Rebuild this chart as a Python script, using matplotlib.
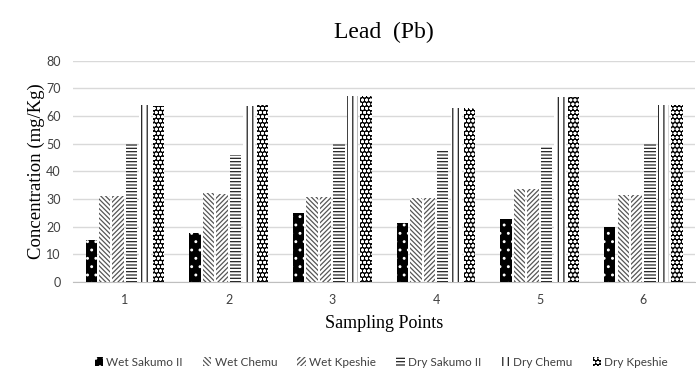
import numpy as np
import matplotlib
matplotlib.use("Agg")
import matplotlib.pyplot as plt

# data
points = [1, 2, 3, 4, 5, 6]
wet_sakumo = [15.1, 17.6, 24.8, 21.2, 22.8, 19.8]
wet_chemu = [31.2, 32.0, 30.8, 30.5, 33.6, 31.5]
wet_kpeshie = [31.2, 31.8, 30.8, 30.5, 33.6, 31.5]
dry_sakumo = [49.9, 46.0, 49.8, 47.5, 48.7, 49.8]
dry_chemu = [64.0, 63.7, 67.4, 62.8, 66.8, 64.0]
dry_kpeshie = [63.6, 64.0, 67.4, 62.8, 66.8, 64.0]
names = ["Wet Sakumo II", "Wet Chemu", "Wet Kpeshie", "Dry Sakumo II", "Dry Chemu", "Dry Kpeshie"]

plt.rcParams['hatch.linewidth'] = 0.9

fig = plt.figure(figsize=(6.96, 3.76), dpi=100)
ax = fig.add_axes([0.105, 0.25, 0.894, 0.5886])

series = [wet_sakumo, wet_chemu, wet_kpeshie, dry_sakumo, dry_chemu, dry_kpeshie]
# (face, hatch colour, hatch)
styles = [("black", "white", ".."),
          ("white", "#555555", "\\\\\\\\\\\\\\"),
          ("white", "#555555", "///////"),
          ("white", "#222222", "-----"),
          ("white", "#222222", "|||"),
          ("black", "white", "oooo")]

x = np.array(points, dtype=float)
slot = 0.13
width = 0.11
for i, (vals, (fc, hc, h)) in enumerate(zip(series, styles)):
    ax.bar(x + (i - 2.5) * slot, vals, width, color=fc, edgecolor=hc, hatch=h,
           linewidth=0, label=names[i], zorder=3)

ax.set_xlim(0.5, 6.5)
ax.set_ylim(0, 80)
ax.set_yticks(range(0, 81, 10))
ax.set_xticks(points)
ax.grid(axis='y', color='#d9d9d9', linewidth=1, zorder=0)
for s in ['top', 'right', 'left']:
    ax.spines[s].set_visible(False)
ax.spines['bottom'].set_color('#bfbfbf')
ax.tick_params(length=0, labelsize=9, colors='#404040', pad=9)
ax.tick_params(axis='y', pad=9)
for lab in ax.get_xticklabels() + ax.get_yticklabels():
    lab.set_family('Lato')

ax.set_title("Lead  (Pb)", family='Liberation Serif', fontsize=17, pad=16)
ax.set_ylabel("Concentration (mg/Kg)", family='Liberation Serif', fontsize=13.5, labelpad=1)
ax.set_xlabel("Sampling Points", family='Liberation Serif', fontsize=13, labelpad=6)

fig.legend(loc='center', bbox_to_anchor=(0.548, 0.037), ncol=6, frameon=False,
           prop={'family': 'Lato', 'size': 8.5}, handlelength=0.7, handleheight=0.7,
           handletextpad=0.3, columnspacing=1.7, labelcolor='#404040')

fig.savefig("out.png", dpi=100)
